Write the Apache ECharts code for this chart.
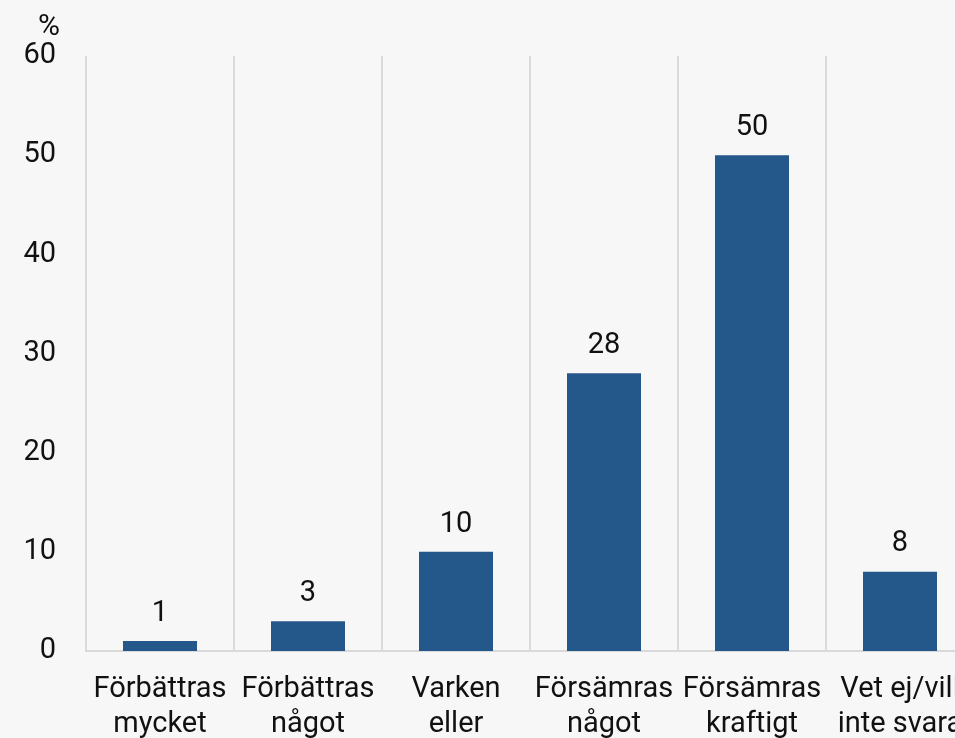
<!DOCTYPE html>
<html lang="sv">
<head>
    <meta charset="UTF-8">
    <title>Diagram</title>
    <script src="https://cdn.jsdelivr.net/npm/echarts@6.0.0/dist/echarts.min.js"></script>
    <style>
        html, body { margin: 0; padding: 0; background: #f7f7f7; }
        #chart { width: 955px; height: 738px; }
    </style>
</head>
<body>
<div id="chart"></div>
<script>
    // data
    var categories = ['Förbättras\nmycket', 'Förbättras\nnågot', 'Varken\neller', 'Försämras\nnågot', 'Försämras\nkraftigt', 'Vet ej/vill\ninte svara'];
    var values = [1, 3, 10, 28, 50, 8];
    var yTicks = [0, 10, 20, 30, 40, 50, 60];

    var chart = echarts.init(document.getElementById('chart'));
    var font = 'Roboto, "Liberation Sans", sans-serif';

    chart.setOption({
        backgroundColor: '#f7f7f7',
        animation: false,
        title: {
            text: '%',
            left: 33,
            top: 7,
            textStyle: {fontFamily: font, fontSize: 30, fontWeight: 'normal', color: '#111'}
        },
        grid: {left: 86, top: 56, width: 888, bottom: 87, containLabel: false, outerBoundsMode: 'none'},
        xAxis: {
            type: 'category',
            data: categories,
            axisLine: {lineStyle: {color: '#d9d9d9', width: 2}},
            axisTick: {show: false},
            splitLine: {show: true, lineStyle: {color: '#dcdcdc', width: 2}},
            axisLabel: {
                interval: 0,
                margin: 21,
                fontFamily: font,
                fontSize: 29,
                lineHeight: 35,
                color: '#111'
            }
        },
        yAxis: {
            type: 'value',
            min: yTicks[0],
            max: yTicks[yTicks.length - 1],
            interval: 10,
            axisLine: {show: false},
            axisTick: {show: false},
            splitLine: {show: false},
            axisLabel: {margin: 30, fontFamily: font, fontSize: 29, color: '#111'}
        },
        series: [{
            type: 'bar',
            data: values,
            barWidth: '50%',
            itemStyle: {color: '#24578a'},
            label: {
                show: true,
                position: 'top',
                distance: 13,
                fontFamily: font,
                fontSize: 29,
                color: '#111'
            }
        }]
    });
</script>
</body>
</html>
